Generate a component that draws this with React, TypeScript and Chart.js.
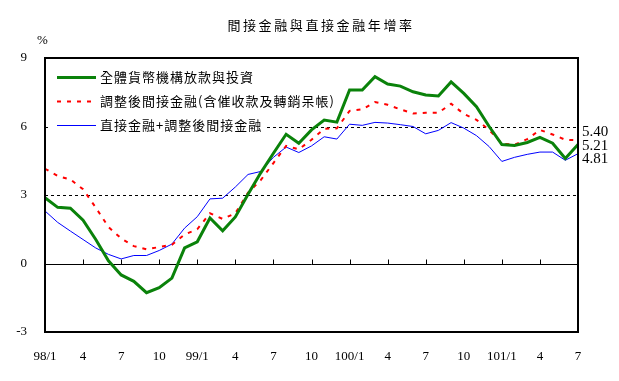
import React, { useEffect, useRef } from 'react';
import { Chart, registerables } from 'chart.js';

Chart.register(...registerables);

const months = [
  '98/1', '98/2', '98/3', '98/4', '98/5', '98/6', '98/7', '98/8', '98/9', '98/10', '98/11', '98/12',
  '99/1', '99/2', '99/3', '99/4', '99/5', '99/6', '99/7', '99/8', '99/9', '99/10', '99/11', '99/12',
  '100/1', '100/2', '100/3', '100/4', '100/5', '100/6', '100/7', '100/8', '100/9', '100/10', '100/11', '100/12',
  '101/1', '101/2', '101/3', '101/4', '101/5', '101/6', '101/7',
];

const tickLabels = ['98/1', '4', '7', '10', '99/1', '4', '7', '10', '100/1', '4', '7', '10', '101/1', '4', '7'];

const loansInvestments = [
  2.88, 2.46, 2.42, 1.9, 1.05, 0.12, -0.5, -0.78, -1.28, -1.06, -0.64, 0.68,
  0.95, 1.99, 1.43, 2.04, 3.03, 3.97, 4.83, 5.66, 5.27, 5.85, 6.28, 6.19,
  7.6, 7.6, 8.18, 7.86, 7.77, 7.52, 7.38, 7.34, 7.95, 7.45, 6.87, 6.0,
  5.21, 5.17, 5.3, 5.52, 5.27, 4.6, 5.21,
];

const adjustedIndirect = [
  4.15, 3.83, 3.68, 3.25, 2.45, 1.6, 1.1, 0.76, 0.62, 0.72, 0.82, 1.27,
  1.5, 2.2, 1.95, 2.2, 3.1, 3.65, 4.4, 5.15, 5.0, 5.42, 5.9, 5.92,
  6.68, 6.75, 7.07, 6.95, 6.75, 6.57, 6.6, 6.6, 7.0, 6.55, 6.29, 5.85,
  5.25, 5.2, 5.45, 5.85, 5.65, 5.42, 5.4,
];

const directPlusIndirect = [
  2.3, 1.8, 1.42, 1.05, 0.68, 0.4, 0.2, 0.35, 0.35, 0.57, 0.85, 1.55,
  2.05, 2.83, 2.86, 3.35, 3.9, 4.03, 4.65, 5.1, 4.86, 5.15, 5.55, 5.45,
  6.1, 6.05, 6.18, 6.15, 6.08, 6.0, 5.68, 5.83, 6.17, 5.93, 5.6, 5.12,
  4.47, 4.65, 4.78, 4.88, 4.88, 4.52, 4.81,
];

const seriesNames = [
  '全體貨幣機構放款與投資',
  '調整後間接金融(含催收款及轉銷呆帳)',
  '直接金融+調整後間接金融',
];

const endLabels = ['5.40', '5.21', '4.81'];
const dashedLevels = [3, 6];
const titleText = '間接金融與直接金融年增率';
const unitText = '%';

const GREEN = '#0a820a';
const RED = '#ff0000';
const BLUE = '#0000ff';
const RED_DASH = [4, 6];

const NUM_FONT = '"Liberation Serif", "DejaVu Serif", serif';
const CJK_FONT = '"Noto Sans CJK TC", "Noto Sans CJK SC", sans-serif';

const decorPlugin = {
  id: 'decor',
  beforeDatasetsDraw(chart: any) {
    const { ctx, chartArea: a, scales } = chart;
    const x = scales.x;
    const y = scales.y;
    ctx.save();
    ctx.strokeStyle = '#000';
    ctx.lineWidth = 1;
    ctx.setLineDash([3, 3]);
    for (const v of dashedLevels) {
      const py = Math.round(y.getPixelForValue(v)) + 0.5;
      ctx.beginPath();
      ctx.moveTo(a.left, py);
      ctx.lineTo(a.right, py);
      ctx.stroke();
    }
    ctx.setLineDash([]);
    const zy = Math.round(y.getPixelForValue(0)) + 0.5;
    ctx.beginPath();
    ctx.moveTo(a.left, zy);
    ctx.lineTo(a.right, zy);
    ctx.stroke();
    for (let i = 3; i < months.length - 1; i += 3) {
      const px = Math.round(x.getPixelForValue(i)) + 0.5;
      ctx.beginPath();
      ctx.moveTo(px, zy);
      ctx.lineTo(px, zy - 5);
      ctx.stroke();
    }

    // legend box (white background, no border)
    ctx.fillStyle = '#fff';
    ctx.fillRect(51, 64, 214, 72);

    const colors = [GREEN, RED, BLUE];
    const widths = [3, 2, 1];
    const dashes = [[], RED_DASH, []];
    const rowsY = [77, 101, 125];
    ctx.textAlign = 'left';
    ctx.textBaseline = 'middle';
    ctx.font = `13px ${CJK_FONT}`;
    for (let i = 0; i < seriesNames.length; i++) {
      ctx.strokeStyle = colors[i];
      ctx.lineWidth = widths[i];
      ctx.setLineDash(dashes[i]);
      ctx.beginPath();
      ctx.moveTo(57, rowsY[i] + 0.5);
      ctx.lineTo(96, rowsY[i] + 0.5);
      ctx.stroke();
      ctx.setLineDash([]);
      (ctx as any).letterSpacing = '1px';
      ctx.fillStyle = '#000';
      ctx.fillText(seriesNames[i], 100, rowsY[i]);
      (ctx as any).letterSpacing = '0px';
    }
    ctx.restore();
  },
  afterDatasetsDraw(chart: any) {
    const { ctx, chartArea: a, scales } = chart;
    const y = scales.y;
    ctx.save();
    ctx.strokeStyle = '#000';
    ctx.lineWidth = 2;
    ctx.strokeRect(a.left, a.top, a.right - a.left, a.bottom - a.top);

    // title
    ctx.fillStyle = '#000';
    ctx.textBaseline = 'middle';
    ctx.textAlign = 'center';
    ctx.font = `13px ${CJK_FONT}`;
    (ctx as any).letterSpacing = '2.6px';
    ctx.fillText(titleText, 321, 25);
    (ctx as any).letterSpacing = '0px';

    // unit
    ctx.font = `13px ${NUM_FONT}`;
    ctx.fillText(unitText, 42.5, 41);

    // end labels
    const lastVals = [
      adjustedIndirect[adjustedIndirect.length - 1],
      loansInvestments[loansInvestments.length - 1],
      directPlusIndirect[directPlusIndirect.length - 1],
    ];
    const offsets = [-8, 2, 5];
    ctx.font = `15px ${NUM_FONT}`;
    ctx.textAlign = 'left';
    for (let i = 0; i < endLabels.length; i++) {
      ctx.fillText(endLabels[i], a.right + 4, y.getPixelForValue(lastVals[i]) + offsets[i]);
    }
    ctx.restore();
  },
};

export default function App() {
  const canvasRef = useRef<HTMLCanvasElement | null>(null);

  useEffect(() => {
    const canvas = canvasRef.current;
    if (!canvas) return;
    const chart = new Chart(canvas, {
      type: 'line',
      data: {
        labels: months,
        datasets: [
          {
            label: seriesNames[0],
            data: loansInvestments,
            borderColor: GREEN,
            backgroundColor: GREEN,
            borderWidth: 3,
            pointRadius: 0,
            tension: 0,
            fill: false,
          },
          {
            label: seriesNames[1],
            data: adjustedIndirect,
            borderColor: RED,
            backgroundColor: RED,
            borderWidth: 2,
            borderDash: RED_DASH,
            pointRadius: 0,
            tension: 0,
            fill: false,
          },
          {
            label: seriesNames[2],
            data: directPlusIndirect,
            borderColor: BLUE,
            backgroundColor: BLUE,
            borderWidth: 1,
            pointRadius: 0,
            tension: 0,
            fill: false,
          },
        ],
      },
      options: {
        responsive: false,
        devicePixelRatio: 1,
        animation: false,
        layout: { padding: { top: 58, right: 41, left: 0, bottom: 0 } },
        plugins: {
          legend: { display: false },
          title: { display: false },
          tooltip: { enabled: false },
        },
        scales: {
          x: {
            type: 'category',
            offset: false,
            grid: { display: false, drawTicks: false },
            border: { display: false },
            ticks: {
              autoSkip: false,
              maxRotation: 0,
              minRotation: 0,
              padding: 17,
              color: '#000',
              font: { family: NUM_FONT, size: 13 },
              callback: (_v: any, i: number) => (i % 3 === 0 ? tickLabels[i / 3] : ''),
            },
            afterFit: (scale: any) => {
              scale.height = 49;
            },
          },
          y: {
            min: -3,
            max: 9,
            grid: { display: false, drawTicks: false },
            border: { display: false },
            ticks: {
              stepSize: 3,
              padding: 18,
              color: '#000',
              font: { family: NUM_FONT, size: 13 },
            },
            afterFit: (scale: any) => {
              scale.width = 45;
            },
          },
        },
      },
      plugins: [decorPlugin],
    });
    return () => chart.destroy();
  }, []);

  return (
    <div style={{ position: 'fixed', left: 0, top: 0, width: 619, height: 381, background: '#fff' }}>
      <canvas ref={canvasRef} width={619} height={381} style={{ display: 'block' }} />
    </div>
  );
}
